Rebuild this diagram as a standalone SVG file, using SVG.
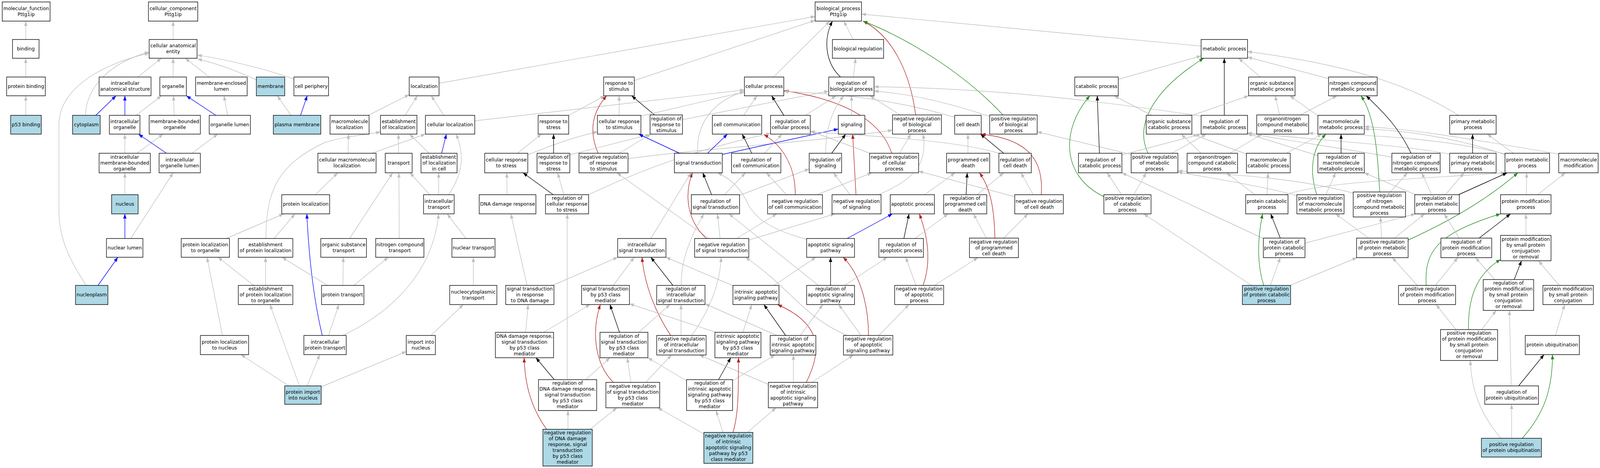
<svg xmlns="http://www.w3.org/2000/svg" width="4344" height="1197" viewBox="0 0 4344 1197" preserveAspectRatio="none">
<style>
:root{width:100vw;height:100vh;display:block}
.n rect{fill:#fff;stroke:#000;stroke-width:1.4}
.n.a rect{fill:#add8e6}
.n text{font-family:"DejaVu Sans","Liberation Sans",sans-serif;font-size:13px;text-anchor:middle;fill:#000}
#edges path{fill:none;stroke-width:1.4}
#edges .g{stroke:#c0c0c0;marker-end:url(#mg)}
#edges .k{stroke:#000;marker-end:url(#mk)}
#edges .b{stroke:#0000ff;marker-end:url(#mb)}
#edges .r{stroke:#b22222;marker-end:url(#mr)}
#edges .v{stroke:#228b22;marker-end:url(#mv)}
</style>
<defs>
<marker id="mg" viewBox="0 0 12 9" refX="12" refY="4.5" markerUnits="userSpaceOnUse" markerWidth="12" markerHeight="9" orient="auto"><path d="M0,0 L12,4.5 L0,9 z" fill="#c0c0c0"/></marker>
<marker id="mk" viewBox="0 0 12 9" refX="12" refY="4.5" markerUnits="userSpaceOnUse" markerWidth="12" markerHeight="9" orient="auto"><path d="M0,0 L12,4.5 L0,9 z" fill="#000"/></marker>
<marker id="mb" viewBox="0 0 12 9" refX="12" refY="4.5" markerUnits="userSpaceOnUse" markerWidth="12" markerHeight="9" orient="auto"><path d="M0,0 L12,4.5 L0,9 z" fill="#0000ff"/></marker>
<marker id="mr" viewBox="0 0 12 9" refX="12" refY="4.5" markerUnits="userSpaceOnUse" markerWidth="12" markerHeight="9" orient="auto"><path d="M0,0 L12,4.5 L0,9 z" fill="#b22222"/></marker>
<marker id="mv" viewBox="0 0 12 9" refX="12" refY="4.5" markerUnits="userSpaceOnUse" markerWidth="12" markerHeight="9" orient="auto"><path d="M0,0 L12,4.5 L0,9 z" fill="#228b22"/></marker>
</defs>
<rect x="0" y="0" width="4344" height="1197" fill="#fff"/>
<g id="edges">
<path class="g" d="M70,101 L70,54"/>
<path class="g" d="M70,197 L70,149"/>
<path class="g" d="M70,295 L70,245"/>
<path class="g" d="M470,101 L470,54"/>
<path class="g" d="M374,197 L438,149"/>
<path class="g" d="M470,197 L470,149"/>
<path class="g" d="M568,197 L503,149"/>
<path class="g" d="M696,204 C640,180 580,160 536,151"/>
<path class="g" d="M798,202 C700,170 600,150 536,141"/>
<path class="g" d="M232,295 C235,220 300,160 405,133"/>
<path class="g" d="M234,730 C200,680 160,620 160,540 L160,320 C160,220 290,160 405,136"/>
<path class="b" d="M260,295 L315,245"/>
<path class="b" d="M339,295 L339,245"/>
<path class="g" d="M370,295 L438,245"/>
<path class="g" d="M473,295 L471,245"/>
<path class="b" d="M586,295 L506,245"/>
<path class="g" d="M618,295 L608,245"/>
<path class="g" d="M339,392 L339,343"/>
<path class="g" d="M372,392 L443,343"/>
<path class="b" d="M452,392 L376,343"/>
<path class="g" d="M521,392 L591,343"/>
<path class="g" d="M339,498 L339,442"/>
<path class="b" d="M339,610 L339,547"/>
<path class="g" d="M355,610 L470,442"/>
<path class="b" d="M266,730 L320,658"/>
<path class="g" d="M790,295 L753,245"/>
<path class="b" d="M816,295 L834,245"/>
<path class="g" d="M614,610 L770,547"/>
<path class="g" d="M604,858 L562,658"/>
<path class="g" d="M689,730 L592,658"/>
<path class="g" d="M784,987 L654,907"/>
<path class="g" d="M1192,213 L2213,42"/>
<path class="g" d="M1000,295 L1111,242"/>
<path class="g" d="M1100,295 L1133,245"/>
<path class="g" d="M1205,295 L1171,245"/>
<path class="g" d="M1289,309 L2021,230"/>
<path class="g" d="M945,392 L946,343"/>
<path class="g" d="M1010,392 L1155,343"/>
<path class="g" d="M1082,392 L1082,343"/>
<path class="g" d="M1165,392 L1112,343"/>
<path class="b" d="M1199,392 L1212,343"/>
<path class="g" d="M856,498 L917,442"/>
<path class="g" d="M1167,498 L1113,442"/>
<path class="g" d="M1191,498 L1191,442"/>
<path class="g" d="M1218,498 C1260,440 1260,390 1238,343"/>
<path class="g" d="M722,610 C722,480 760,420 880,365 C950,345 1000,345 1033,337"/>
<path class="g" d="M744,610 L801,547"/>
<path class="b" d="M875,858 C855,780 840,680 833,547"/>
<path class="g" d="M949,610 L1066,442"/>
<path class="g" d="M1084,610 L1083,442"/>
<path class="g" d="M931,858 C1060,800 1175,700 1191,547"/>
<path class="g" d="M1265,610 L1214,547"/>
<path class="g" d="M1377,498 L1376,442"/>
<path class="k" d="M1502,498 L1420,442"/>
<path class="g" d="M1405,392 L1470,343"/>
<path class="g" d="M1433,396 C1500,370 1560,350 1623,337"/>
<path class="g" d="M889,730 L766,658"/>
<path class="g" d="M931,730 L932,658"/>
<path class="g" d="M961,730 L1054,658"/>
<path class="g" d="M721,730 L721,658"/>
<path class="g" d="M892,858 L920,779"/>
<path class="g" d="M834,987 L868,907"/>
<path class="g" d="M813,987 L733,779"/>
<path class="g" d="M873,989 L1103,899"/>
<path class="g" d="M1170,858 L1258,779"/>
<path class="g" d="M1285,730 L1285,658"/>
<path class="g" d="M1431,730 L1387,547"/>
<path class="g" d="M1427,850 L1434,779"/>
<path class="r" d="M1484,1098 C1440,1040 1425,980 1423,915"/>
<path class="g" d="M1722,206 L2213,52"/>
<path class="g" d="M1544,295 L1642,245"/>
<path class="g" d="M1681,295 L1681,245"/>
<path class="k" d="M1777,294 L1715,245"/>
<path class="r" d="M1624,392 C1600,340 1605,290 1647,245"/>
<path class="g" d="M1740,297 L2021,235"/>
<path class="g" d="M1853,306 L2250,233"/>
<path class="k" d="M1503,392 L1503,343"/>
<path class="g" d="M1547,396 L1764,344"/>
<path class="g" d="M1531,498 L1514,442"/>
<path class="g" d="M1598,498 C1750,430 1900,380 2092,341"/>
<path class="g" d="M1681,392 L1767,343"/>
<path class="g" d="M1705,406 C1900,380 2200,365 2423,333"/>
<path class="g" d="M1925,610 L1675,442"/>
<path class="b" d="M1845,392 L1734,343"/>
<path class="b" d="M1921,392 L1975,343"/>
<path class="g" d="M1894,392 C1890,320 1930,260 2021,234"/>
<path class="b" d="M1961,395 L2276,330"/>
<path class="k" d="M1932,498 L1908,442"/>
<path class="r" d="M1918,610 C1860,560 1860,490 1880,442"/>
<path class="g" d="M2190,612 C2100,590 2050,560 2030,520 C2010,480 1980,455 1948,442"/>
<path class="g" d="M1767,610 L1876,442"/>
<path class="g" d="M1849,730 C1850,680 1860,630 1911,547"/>
<path class="g" d="M1955,610 L1948,547"/>
<path class="g" d="M2222,730 L1979,547"/>
<path class="g" d="M2000,610 L2109,547"/>
<path class="g" d="M2033,614 L2267,547"/>
<path class="g" d="M2007,500 L2197,432"/>
<path class="g" d="M1967,498 L2024,442"/>
<path class="g" d="M2135,498 L2081,442"/>
<path class="k" d="M2041,392 L2015,343"/>
<path class="g" d="M2019,295 L2055,245"/>
<path class="g" d="M2076,392 L2123,343"/>
<path class="r" d="M2159,498 C2160,420 2120,370 2074,344"/>
<path class="k" d="M2128,295 L2095,245"/>
<path class="g" d="M2187,295 L2270,245"/>
<path class="r" d="M2421,392 C2400,330 2330,260 2129,232"/>
<path class="g" d="M2592,300 C2450,260 2300,240 2128,234"/>
<path class="g" d="M2100,197 L2253,54"/>
<path class="k" d="M2282,197 C2240,160 2235,100 2260,54"/>
<path class="g" d="M2316,101 L2291,54"/>
<path class="g" d="M2317,197 L2323,149"/>
<path class="r" d="M2486,294 C2470,180 2420,90 2343,54"/>
<path class="v" d="M2723,294 C2620,190 2470,100 2343,54"/>
<path class="g" d="M3261,118 L2339,36"/>
<path class="g" d="M2312,295 L2312,245"/>
<path class="g" d="M2242,392 C2240,330 2260,280 2291,245"/>
<path class="g" d="M2444,294 L2362,245"/>
<path class="g" d="M2687,298 C2600,270 2480,240 2373,233"/>
<path class="g" d="M3261,297 C3000,260 2700,225 2373,222"/>
<path class="k" d="M2258,392 L2296,343"/>
<path class="r" d="M2324,498 L2315,343"/>
<path class="g" d="M2308,498 L2263,442"/>
<path class="g" d="M2218,498 L2367,442"/>
<path class="g" d="M2385,498 C2480,460 2520,420 2506,343"/>
<path class="g" d="M2442,392 L2473,343"/>
<path class="g" d="M2362,392 L2200,335"/>
<path class="g" d="M2712,392 C2600,360 2400,350 2200,337"/>
<path class="b" d="M2300,610 L2423,547"/>
<path class="k" d="M2454,610 L2468,547"/>
<path class="r" d="M2506,730 C2525,680 2525,620 2496,547"/>
<path class="g" d="M2510,498 L2593,442"/>
<path class="k" d="M2623,498 L2626,442"/>
<path class="g" d="M2628,392 L2628,343"/>
<path class="k" d="M2725,392 L2662,343"/>
<path class="r" d="M2827,498 C2835,400 2780,355 2664,343"/>
<path class="g" d="M2653,498 L2725,442"/>
<path class="g" d="M2805,498 L2772,442"/>
<path class="g" d="M2755,503 L2494,438"/>
<path class="r" d="M2701,609 C2700,540 2690,480 2659,442"/>
<path class="g" d="M2484,610 L2574,547"/>
<path class="g" d="M2678,609 L2643,547"/>
<path class="g" d="M2725,609 L2791,547"/>
<path class="g" d="M3071,395 L2816,337"/>
<path class="g" d="M3036,203 L3261,143"/>
<path class="v" d="M3117,392 C3080,320 3130,230 3268,149"/>
<path class="k" d="M3324,295 L3324,149"/>
<path class="g" d="M3422,197 L3363,149"/>
<path class="g" d="M3960,295 C3850,230 3700,170 3387,132"/>
<path class="g" d="M3607,201 L3387,146"/>
<path class="k" d="M2985,392 L2979,245"/>
<path class="v" d="M2997,503 C2880,450 2880,330 2959,245"/>
<path class="g" d="M3127,295 L3025,245"/>
<path class="g" d="M3237,295 L3390,245"/>
<path class="g" d="M3474,294 L3462,245"/>
<path class="g" d="M3578,296 L3502,245"/>
<path class="g" d="M3531,294 L3630,245"/>
<path class="g" d="M3046,396 L3261,343"/>
<path class="g" d="M3181,392 L3275,343"/>
<path class="g" d="M3261,392 L3207,343"/>
<path class="g" d="M3339,392 L3426,343"/>
<path class="g" d="M3384,394 L3236,343"/>
<path class="g" d="M3492,392 L3589,343"/>
<path class="g" d="M3578,398 L3387,342"/>
<path class="g" d="M3779,402 C3650,380 3500,360 3387,341"/>
<path class="g" d="M3936,394 C3800,370 3600,360 3387,340"/>
<path class="g" d="M4087,394 C3900,350 3700,345 3553,341"/>
<path class="g" d="M4087,396 C3950,350 3800,332 3704,330"/>
<path class="g" d="M4109,392 L4038,343"/>
<path class="g" d="M4232,394 C3900,340 3800,328 3704,324"/>
<path class="v" d="M3575,498 C3555,440 3560,380 3600,343"/>
<path class="k" d="M3641,392 L3641,343"/>
<path class="g" d="M3521,500 C3400,470 3250,450 3198,440"/>
<path class="g" d="M3674,494 C3500,450 3300,445 3198,437"/>
<path class="g" d="M3430,610 L3046,442"/>
<path class="g" d="M3045,498 L3006,442"/>
<path class="g" d="M3078,498 L3112,442"/>
<path class="g" d="M3398,730 L3105,547"/>
<path class="g" d="M3407,498 L3330,442"/>
<path class="g" d="M3440,498 L3443,442"/>
<path class="v" d="M3431,730 C3414,680 3412,620 3428,547"/>
<path class="k" d="M3476,609 L3450,547"/>
<path class="g" d="M3488,498 C3600,465 3800,460 4087,442"/>
<path class="g" d="M3449,730 L3476,659"/>
<path class="g" d="M3502,730 L3684,659"/>
<path class="g" d="M3543,622 L3843,547"/>
<path class="g" d="M3843,498 L3704,442"/>
<path class="g" d="M3887,498 L3860,442"/>
<path class="g" d="M3924,498 L3975,442"/>
<path class="k" d="M3960,498 L4092,442"/>
<path class="g" d="M3600,498 L3626,442"/>
<path class="g" d="M3775,491 L3821,442"/>
<path class="v" d="M3746,491 C3740,400 3735,300 3695,245"/>
<path class="k" d="M3831,392 C3800,330 3760,290 3709,245"/>
<path class="k" d="M3998,392 L3998,343"/>
<path class="g" d="M4144,498 L4145,442"/>
<path class="g" d="M4175,498 L4250,442"/>
<path class="g" d="M3716,609 L3626,547"/>
<path class="g" d="M3751,609 L3748,555"/>
<path class="g" d="M3786,609 L3868,547"/>
<path class="v" d="M3823,614 C3950,560 4050,500 4121,442"/>
<path class="v" d="M3872,730 C3868,650 3890,600 4074,547"/>
<path class="g" d="M3962,609 L3921,547"/>
<path class="k" d="M4016,609 L4101,547"/>
<path class="g" d="M4143,602 L4143,547"/>
<path class="g" d="M3848,730 L3780,659"/>
<path class="g" d="M3897,730 L3958,659"/>
<path class="g" d="M4058,715 L4006,659"/>
<path class="k" d="M4111,715 L4131,667"/>
<path class="v" d="M3987,843 C3985,760 4010,700 4074,664"/>
<path class="g" d="M3953,843 L3899,779"/>
<path class="g" d="M4023,843 L4062,794"/>
<path class="g" d="M4233,730 L4177,667"/>
<path class="g" d="M4223,858 L4248,779"/>
<path class="k" d="M4123,987 L4192,907"/>
<path class="g" d="M4103,987 L4098,794"/>
<path class="g" d="M4104,1121 L4104,1034"/>
<path class="g" d="M4075,1121 C4020,1060 3995,1000 3992,922"/>
<path class="v" d="M4133,1121 C4190,1060 4215,1000 4215,907"/>
<path class="g" d="M1500,730 L1677,658"/>
<path class="g" d="M1665,730 L1722,658"/>
<path class="r" d="M1821,858 C1780,800 1750,730 1743,658"/>
<path class="k" d="M1827,730 L1767,658"/>
<path class="g" d="M1991,731 L1808,658"/>
<path class="g" d="M1878,858 C1930,790 1955,720 1958,658"/>
<path class="g" d="M2300,858 C2180,810 2150,740 2024,658"/>
<path class="g" d="M1476,850 L1602,779"/>
<path class="k" d="M1682,850 L1656,779"/>
<path class="r" d="M1665,978 C1615,930 1605,850 1630,779"/>
<path class="g" d="M1734,850 L1819,779"/>
<path class="g" d="M1849,858 L1849,779"/>
<path class="g" d="M1944,850 L1709,777"/>
<path class="g" d="M2017,850 L2041,779"/>
<path class="k" d="M2133,858 L2074,779"/>
<path class="g" d="M2109,858 L1914,777"/>
<path class="r" d="M2189,978 C2230,900 2235,830 2111,779"/>
<path class="g" d="M2100,731 L2215,658"/>
<path class="k" d="M1505,971 L1455,915"/>
<path class="g" d="M1590,971 L1656,915"/>
<path class="g" d="M1713,978 L1703,915"/>
<path class="g" d="M1753,978 L1823,908"/>
<path class="g" d="M1864,974 L1759,915"/>
<path class="k" d="M1951,971 L1984,915"/>
<path class="g" d="M1989,974 L2104,908"/>
<path class="g" d="M2086,983 L1899,908"/>
<path class="g" d="M2154,978 L2154,908"/>
<path class="g" d="M2204,978 L2317,908"/>
<path class="r" d="M1990,1106 C2005,1060 2005,1000 2005,915"/>
<path class="g" d="M1963,1106 L1944,1050"/>
<path class="g" d="M1911,1110 L1786,1043"/>
<path class="g" d="M2029,1106 L2107,1043"/>
<path class="g" d="M1542,1098 L1542,1050"/>
<path class="g" d="M1602,1098 L1675,1043"/>
<path class="g" d="M1540,971 L1540,547"/>
<path class="k" d="M2255,730 L2255,658"/>
<path class="r" d="M2358,858 C2358,780 2335,700 2289,658"/>
<path class="g" d="M2293,730 L2409,658"/>
<path class="g" d="M2487,730 L2459,658"/>
<path class="g" d="M2537,730 L2655,659"/>
<path class="g" d="M2173,858 L2234,779"/>
<path class="g" d="M2338,858 L2277,779"/>
<path class="g" d="M2386,858 L2468,779"/>
</g>
<g id="n_mf" class="n"><rect x="6" y="5" width="130" height="49"/><text><tspan x="71" y="25.7">molecular_function</tspan><tspan x="71" y="40.7">Pttg1ip</tspan></text></g>
<g id="n_cc" class="n"><rect x="403" y="5" width="134" height="49"/><text><tspan x="470" y="25.7">cellular_component</tspan><tspan x="470" y="40.7">Pttg1ip</tspan></text></g>
<g id="n_bp" class="n"><rect x="2213" y="5" width="126" height="49"/><text><tspan x="2276" y="25.7">biological_process</tspan><tspan x="2276" y="40.7">Pttg1ip</tspan></text></g>
<g id="n_binding" class="n"><rect x="34" y="101" width="72" height="48"/><text><tspan x="70" y="128.7">binding</tspan></text></g>
<g id="n_cae" class="n"><rect x="405" y="101" width="130" height="48"/><text><tspan x="470" y="121.2">cellular anatomical</tspan><tspan x="470" y="136.2">entity</tspan></text></g>
<g id="n_br" class="n"><rect x="2260" y="101" width="139" height="48"/><text><tspan x="2329.5" y="128.7">biological regulation</tspan></text></g>
<g id="n_mp" class="n"><rect x="3261" y="101" width="126" height="48"/><text><tspan x="3324" y="128.7">metabolic process</tspan></text></g>
<g id="n_pb" class="n"><rect x="18" y="197" width="105" height="48"/><text><tspan x="70.5" y="224.7">protein binding</tspan></text></g>
<g id="n_ias" class="n"><rect x="269" y="197" width="141" height="48"/><text><tspan x="339.5" y="217.2">intracellular</tspan><tspan x="339.5" y="232.2">anatomical structure</tspan></text></g>
<g id="n_organelle" class="n"><rect x="434" y="197" width="72" height="48"/><text><tspan x="470" y="224.7">organelle</tspan></text></g>
<g id="n_mel" class="n"><rect x="531" y="197" width="140" height="48"/><text><tspan x="601" y="217.2">membrane-enclosed</tspan><tspan x="601" y="232.2">lumen</tspan></text></g>
<g id="n_membrane" class="n a"><rect x="696" y="197" width="77" height="48"/><text><tspan x="734.5" y="224.7">membrane</tspan></text></g>
<g id="n_cper" class="n"><rect x="798" y="197" width="94" height="48"/><text><tspan x="845" y="224.7">cell periphery</tspan></text></g>
<g id="n_loc" class="n"><rect x="1111" y="197" width="81" height="48"/><text><tspan x="1151.5" y="224.7">localization</tspan></text></g>
<g id="n_rstim" class="n"><rect x="1639" y="197" width="83" height="48"/><text><tspan x="1680.5" y="217.2">response to</tspan><tspan x="1680.5" y="232.2">stimulus</tspan></text></g>
<g id="n_cp" class="n"><rect x="2021" y="197" width="107" height="48"/><text><tspan x="2074.5" y="224.7">cellular process</tspan></text></g>
<g id="n_rbp" class="n"><rect x="2250" y="197" width="123" height="48"/><text><tspan x="2311.5" y="217.2">regulation of</tspan><tspan x="2311.5" y="232.2">biological process</tspan></text></g>
<g id="n_catp" class="n"><rect x="2918" y="197" width="118" height="48"/><text><tspan x="2977" y="224.7">catabolic process</tspan></text></g>
<g id="n_osmp" class="n"><rect x="3390" y="197" width="126" height="48"/><text><tspan x="3453" y="217.2">organic substance</tspan><tspan x="3453" y="232.2">metabolic process</tspan></text></g>
<g id="n_ncmp" class="n"><rect x="3607" y="197" width="132" height="48"/><text><tspan x="3673" y="217.2">nitrogen compound</tspan><tspan x="3673" y="232.2">metabolic process</tspan></text></g>
<g id="n_p53b" class="n a"><rect x="29" y="295" width="83" height="48"/><text><tspan x="70.5" y="322.7">p53 binding</tspan></text></g>
<g id="n_cyto" class="n a"><rect x="197" y="295" width="75" height="48"/><text><tspan x="234.5" y="322.7">cytoplasm</tspan></text></g>
<g id="n_io" class="n"><rect x="297" y="295" width="83" height="48"/><text><tspan x="338.5" y="315.2">intracellular</tspan><tspan x="338.5" y="330.2">organelle</tspan></text></g>
<g id="n_mbo" class="n"><rect x="405" y="295" width="139" height="48"/><text><tspan x="474.5" y="315.2">membrane-bounded</tspan><tspan x="474.5" y="330.2">organelle</tspan></text></g>
<g id="n_ol" class="n"><rect x="568" y="295" width="112" height="48"/><text><tspan x="624" y="322.7">organelle lumen</tspan></text></g>
<g id="n_pm" class="n a"><rect x="742" y="295" width="129" height="48"/><text><tspan x="806.5" y="322.7">plasma membrane</tspan></text></g>
<g id="n_ml" class="n"><rect x="896" y="295" width="106" height="48"/><text><tspan x="949" y="315.2">macromolecule</tspan><tspan x="949" y="330.2">localization</tspan></text></g>
<g id="n_el" class="n"><rect x="1033" y="295" width="99" height="48"/><text><tspan x="1082.5" y="315.2">establishment</tspan><tspan x="1082.5" y="330.2">of localization</tspan></text></g>
<g id="n_cl" class="n"><rect x="1155" y="295" width="134" height="48"/><text><tspan x="1222" y="322.7">cellular localization</tspan></text></g>
<g id="n_rstress" class="n"><rect x="1461" y="295" width="83" height="48"/><text><tspan x="1502.5" y="315.2">response to</tspan><tspan x="1502.5" y="330.2">stress</tspan></text></g>
<g id="n_crstim" class="n"><rect x="1622" y="295" width="118" height="48"/><text><tspan x="1681" y="315.2">cellular response</tspan><tspan x="1681" y="330.2">to stimulus</tspan></text></g>
<g id="n_rrstim" class="n"><rect x="1765" y="294" width="88" height="49"/><text><tspan x="1809" y="307.7">regulation of</tspan><tspan x="1809" y="322.7">response to</tspan><tspan x="1809" y="337.7">stimulus</tspan></text></g>
<g id="n_ccom" class="n"><rect x="1934" y="295" width="134" height="48"/><text><tspan x="2001" y="322.7">cell communication</tspan></text></g>
<g id="n_rcp" class="n"><rect x="2092" y="295" width="108" height="48"/><text><tspan x="2146" y="315.2">regulation of</tspan><tspan x="2146" y="330.2">cellular process</tspan></text></g>
<g id="n_sig" class="n"><rect x="2276" y="295" width="72" height="48"/><text><tspan x="2312" y="322.7">signaling</tspan></text></g>
<g id="n_nrbp" class="n"><rect x="2423" y="294" width="133" height="49"/><text><tspan x="2489.5" y="307.7">negative regulation</tspan><tspan x="2489.5" y="322.7">of biological</tspan><tspan x="2489.5" y="337.7">process</tspan></text></g>
<g id="n_cd" class="n"><rect x="2592" y="295" width="72" height="48"/><text><tspan x="2628" y="322.7">cell death</tspan></text></g>
<g id="n_prbp" class="n"><rect x="2687" y="294" width="129" height="49"/><text><tspan x="2751.5" y="307.7">positive regulation</tspan><tspan x="2751.5" y="322.7">of biological</tspan><tspan x="2751.5" y="337.7">process</tspan></text></g>
<g id="n_oscp" class="n"><rect x="3112" y="295" width="124" height="48"/><text><tspan x="3174" y="315.2">organic substance</tspan><tspan x="3174" y="330.2">catabolic process</tspan></text></g>
<g id="n_rmp" class="n"><rect x="3261" y="295" width="126" height="48"/><text><tspan x="3324" y="315.2">regulation of</tspan><tspan x="3324" y="330.2">metabolic process</tspan></text></g>
<g id="n_oncmp" class="n"><rect x="3412" y="294" width="141" height="49"/><text><tspan x="3482.5" y="307.7">organonitrogen</tspan><tspan x="3482.5" y="322.7">compound metabolic</tspan><tspan x="3482.5" y="337.7">process</tspan></text></g>
<g id="n_mmp" class="n"><rect x="3578" y="295" width="126" height="48"/><text><tspan x="3641" y="315.2">macromolecule</tspan><tspan x="3641" y="330.2">metabolic process</tspan></text></g>
<g id="n_primmp" class="n"><rect x="3936" y="295" width="126" height="48"/><text><tspan x="3999" y="315.2">primary metabolic</tspan><tspan x="3999" y="330.2">process</tspan></text></g>
<g id="n_imbo" class="n"><rect x="269" y="392" width="139" height="50"/><text><tspan x="338.5" y="405.7">intracellular</tspan><tspan x="338.5" y="420.7">membrane-bounded</tspan><tspan x="338.5" y="435.7">organelle</tspan></text></g>
<g id="n_iol" class="n"><rect x="432" y="392" width="112" height="50"/><text><tspan x="488" y="413.2">intracellular</tspan><tspan x="488" y="428.2">organelle lumen</tspan></text></g>
<g id="n_cml" class="n"><rect x="863" y="392" width="158" height="50"/><text><tspan x="942" y="413.2">cellular macromolecule</tspan><tspan x="942" y="428.2">localization</tspan></text></g>
<g id="n_transport" class="n"><rect x="1046" y="392" width="73" height="50"/><text><tspan x="1082.5" y="420.7">transport</tspan></text></g>
<g id="n_elc" class="n"><rect x="1143" y="392" width="98" height="50"/><text><tspan x="1192" y="405.7">establishment</tspan><tspan x="1192" y="420.7">of localization</tspan><tspan x="1192" y="435.7">in cell</tspan></text></g>
<g id="n_crs" class="n"><rect x="1316" y="392" width="117" height="50"/><text><tspan x="1374.5" y="413.2">cellular response</tspan><tspan x="1374.5" y="428.2">to stress</tspan></text></g>
<g id="n_rrstress" class="n"><rect x="1458" y="392" width="89" height="50"/><text><tspan x="1502.5" y="405.7">regulation of</tspan><tspan x="1502.5" y="420.7">response to</tspan><tspan x="1502.5" y="435.7">stress</tspan></text></g>
<g id="n_nrrstim" class="n"><rect x="1572" y="392" width="133" height="50"/><text><tspan x="1638.5" y="405.7">negative regulation</tspan><tspan x="1638.5" y="420.7">of response</tspan><tspan x="1638.5" y="435.7">to stimulus</tspan></text></g>
<g id="n_st" class="n"><rect x="1831" y="392" width="130" height="50"/><text><tspan x="1896" y="420.7">signal transduction</tspan></text></g>
<g id="n_rcc" class="n"><rect x="1986" y="392" width="134" height="50"/><text><tspan x="2053" y="413.2">regulation of</tspan><tspan x="2053" y="428.2">cell communication</tspan></text></g>
<g id="n_rs" class="n"><rect x="2197" y="392" width="88" height="50"/><text><tspan x="2241" y="413.2">regulation of</tspan><tspan x="2241" y="428.2">signaling</tspan></text></g>
<g id="n_nrcp" class="n"><rect x="2361" y="392" width="133" height="50"/><text><tspan x="2427.5" y="405.7">negative regulation</tspan><tspan x="2427.5" y="420.7">of cellular</tspan><tspan x="2427.5" y="435.7">process</tspan></text></g>
<g id="n_pcd" class="n"><rect x="2570" y="392" width="117" height="50"/><text><tspan x="2628.5" y="413.2">programmed cell</tspan><tspan x="2628.5" y="428.2">death</tspan></text></g>
<g id="n_rcd" class="n"><rect x="2712" y="392" width="88" height="50"/><text><tspan x="2756" y="413.2">regulation of</tspan><tspan x="2756" y="428.2">cell death</tspan></text></g>
<g id="n_rcatp" class="n"><rect x="2928" y="392" width="118" height="50"/><text><tspan x="2987" y="413.2">regulation of</tspan><tspan x="2987" y="428.2">catabolic process</tspan></text></g>
<g id="n_prmp" class="n"><rect x="3071" y="392" width="127" height="50"/><text><tspan x="3134.5" y="405.7">positive regulation</tspan><tspan x="3134.5" y="420.7">of metabolic</tspan><tspan x="3134.5" y="435.7">process</tspan></text></g>
<g id="n_onccp" class="n"><rect x="3223" y="392" width="137" height="50"/><text><tspan x="3291.5" y="405.7">organonitrogen</tspan><tspan x="3291.5" y="420.7">compound catabolic</tspan><tspan x="3291.5" y="435.7">process</tspan></text></g>
<g id="n_mcp" class="n"><rect x="3384" y="392" width="119" height="50"/><text><tspan x="3443.5" y="413.2">macromolecule</tspan><tspan x="3443.5" y="428.2">catabolic process</tspan></text></g>
<g id="n_rmmp" class="n"><rect x="3578" y="392" width="126" height="50"/><text><tspan x="3641" y="405.7">regulation of</tspan><tspan x="3641" y="420.7">macromolecule</tspan><tspan x="3641" y="435.7">metabolic process</tspan></text></g>
<g id="n_rncmp" class="n"><rect x="3779" y="392" width="131" height="50"/><text><tspan x="3844.5" y="405.7">regulation of</tspan><tspan x="3844.5" y="420.7">nitrogen compound</tspan><tspan x="3844.5" y="435.7">metabolic process</tspan></text></g>
<g id="n_rprimmp" class="n"><rect x="3936" y="392" width="126" height="50"/><text><tspan x="3999" y="405.7">regulation of</tspan><tspan x="3999" y="420.7">primary metabolic</tspan><tspan x="3999" y="435.7">process</tspan></text></g>
<g id="n_protmp" class="n"><rect x="4086" y="392" width="121" height="50"/><text><tspan x="4146.5" y="413.2">protein metabolic</tspan><tspan x="4146.5" y="428.2">process</tspan></text></g>
<g id="n_mm" class="n"><rect x="4232" y="392" width="107" height="50"/><text><tspan x="4285.5" y="413.2">macromolecule</tspan><tspan x="4285.5" y="428.2">modification</tspan></text></g>
<g id="n_nucleus" class="n a"><rect x="303" y="498" width="72" height="49"/><text><tspan x="339" y="526.2">nucleus</tspan></text></g>
<g id="n_pl" class="n"><rect x="765" y="498" width="130" height="49"/><text><tspan x="830" y="526.2">protein localization</tspan></text></g>
<g id="n_it" class="n"><rect x="1150" y="498" width="83" height="49"/><text><tspan x="1191.5" y="518.7">intracellular</tspan><tspan x="1191.5" y="533.7">transport</tspan></text></g>
<g id="n_ddr" class="n"><rect x="1301" y="498" width="154" height="49"/><text><tspan x="1378" y="526.2">DNA damage response</tspan></text></g>
<g id="n_rcrs" class="n"><rect x="1481" y="498" width="117" height="49"/><text><tspan x="1539.5" y="511.2">regulation of</tspan><tspan x="1539.5" y="526.2">cellular response</tspan><tspan x="1539.5" y="541.2">to stress</tspan></text></g>
<g id="n_rst" class="n"><rect x="1877" y="498" width="131" height="49"/><text><tspan x="1942.5" y="518.7">regulation of</tspan><tspan x="1942.5" y="533.7">signal transduction</tspan></text></g>
<g id="n_nrcc" class="n"><rect x="2084" y="498" width="149" height="49"/><text><tspan x="2158.5" y="518.7">negative regulation</tspan><tspan x="2158.5" y="533.7">of cell communication</tspan></text></g>
<g id="n_nrs" class="n"><rect x="2259" y="498" width="133" height="49"/><text><tspan x="2325.5" y="518.7">negative regulation</tspan><tspan x="2325.5" y="533.7">of signaling</tspan></text></g>
<g id="n_ap" class="n"><rect x="2417" y="498" width="120" height="49"/><text><tspan x="2477" y="526.2">apoptotic process</tspan></text></g>
<g id="n_rpcd" class="n"><rect x="2562" y="498" width="117" height="49"/><text><tspan x="2620.5" y="511.2">regulation of</tspan><tspan x="2620.5" y="526.2">programmed cell</tspan><tspan x="2620.5" y="541.2">death</tspan></text></g>
<g id="n_nrcd" class="n"><rect x="2755" y="498" width="132" height="49"/><text><tspan x="2821" y="518.7">negative regulation</tspan><tspan x="2821" y="533.7">of cell death</tspan></text></g>
<g id="n_prcatp" class="n"><rect x="2997" y="498" width="128" height="49"/><text><tspan x="3061" y="511.2">positive regulation</tspan><tspan x="3061" y="526.2">of catabolic</tspan><tspan x="3061" y="541.2">process</tspan></text></g>
<g id="n_pcp" class="n"><rect x="3382" y="498" width="115" height="49"/><text><tspan x="3439.5" y="518.7">protein catabolic</tspan><tspan x="3439.5" y="533.7">process</tspan></text></g>
<g id="n_prmmp" class="n"><rect x="3521" y="498" width="128" height="49"/><text><tspan x="3585" y="511.2">positive regulation</tspan><tspan x="3585" y="526.2">of macromolecule</tspan><tspan x="3585" y="541.2">metabolic process</tspan></text></g>
<g id="n_prncmp" class="n"><rect x="3674" y="491" width="142" height="64"/><text><tspan x="3745" y="504.2">positive regulation</tspan><tspan x="3745" y="519.2">of nitrogen</tspan><tspan x="3745" y="534.2">compound metabolic</tspan><tspan x="3745" y="549.2">process</tspan></text></g>
<g id="n_rpmp" class="n"><rect x="3841" y="498" width="121" height="49"/><text><tspan x="3901.5" y="511.2">regulation of</tspan><tspan x="3901.5" y="526.2">protein metabolic</tspan><tspan x="3901.5" y="541.2">process</tspan></text></g>
<g id="n_pmodp" class="n"><rect x="4074" y="498" width="137" height="49"/><text><tspan x="4142.5" y="518.7">protein modification</tspan><tspan x="4142.5" y="533.7">process</tspan></text></g>
<g id="n_nl" class="n"><rect x="289" y="610" width="99" height="48"/><text><tspan x="338.5" y="637.7">nuclear lumen</tspan></text></g>
<g id="n_plo" class="n"><rect x="492" y="610" width="131" height="48"/><text><tspan x="557.5" y="630.2">protein localization</tspan><tspan x="557.5" y="645.2">to organelle</tspan></text></g>
<g id="n_epl" class="n"><rect x="647" y="610" width="148" height="48"/><text><tspan x="721" y="630.2">establishment</tspan><tspan x="721" y="645.2">of protein localization</tspan></text></g>
<g id="n_ost" class="n"><rect x="871" y="610" width="124" height="48"/><text><tspan x="933" y="630.2">organic substance</tspan><tspan x="933" y="645.2">transport</tspan></text></g>
<g id="n_nct" class="n"><rect x="1020" y="610" width="131" height="48"/><text><tspan x="1085.5" y="630.2">nitrogen compound</tspan><tspan x="1085.5" y="645.2">transport</tspan></text></g>
<g id="n_nt" class="n"><rect x="1227" y="610" width="117" height="48"/><text><tspan x="1285.5" y="637.7">nuclear transport</tspan></text></g>
<g id="n_ist" class="n"><rect x="1677" y="610" width="131" height="48"/><text><tspan x="1742.5" y="630.2">intracellular</tspan><tspan x="1742.5" y="645.2">signal transduction</tspan></text></g>
<g id="n_nrst" class="n"><rect x="1886" y="610" width="147" height="48"/><text><tspan x="1959.5" y="630.2">negative regulation</tspan><tspan x="1959.5" y="645.2">of signal transduction</tspan></text></g>
<g id="n_asp" class="n"><rect x="2190" y="610" width="130" height="48"/><text><tspan x="2255" y="630.2">apoptotic signaling</tspan><tspan x="2255" y="645.2">pathway</tspan></text></g>
<g id="n_rap" class="n"><rect x="2386" y="610" width="121" height="48"/><text><tspan x="2446.5" y="630.2">regulation of</tspan><tspan x="2446.5" y="645.2">apoptotic process</tspan></text></g>
<g id="n_nrpcd" class="n"><rect x="2632" y="609" width="133" height="50"/><text><tspan x="2698.5" y="622.7">negative regulation</tspan><tspan x="2698.5" y="637.7">of programmed</tspan><tspan x="2698.5" y="652.7">cell death</tspan></text></g>
<g id="n_rpcp" class="n"><rect x="3430" y="609" width="113" height="50"/><text><tspan x="3486.5" y="622.7">regulation of</tspan><tspan x="3486.5" y="637.7">protein catabolic</tspan><tspan x="3486.5" y="652.7">process</tspan></text></g>
<g id="n_prpmp" class="n"><rect x="3683" y="609" width="140" height="50"/><text><tspan x="3753" y="622.7">positive regulation</tspan><tspan x="3753" y="637.7">of protein metabolic</tspan><tspan x="3753" y="652.7">process</tspan></text></g>
<g id="n_rpmodp" class="n"><rect x="3912" y="609" width="138" height="50"/><text><tspan x="3981" y="622.7">regulation of</tspan><tspan x="3981" y="637.7">protein modification</tspan><tspan x="3981" y="652.7">process</tspan></text></g>
<g id="n_pmbspcr" class="n"><rect x="4074" y="602" width="137" height="65"/><text><tspan x="4142.5" y="615.7">protein modification</tspan><tspan x="4142.5" y="630.7">by small protein</tspan><tspan x="4142.5" y="645.7">conjugation</tspan><tspan x="4142.5" y="660.7">or removal</tspan></text></g>
<g id="n_nucleoplasm" class="n a"><rect x="205" y="730" width="88" height="49"/><text><tspan x="249" y="758.2">nucleoplasm</tspan></text></g>
<g id="n_eplo" class="n"><rect x="647" y="730" width="148" height="49"/><text><tspan x="721" y="743.2">establishment</tspan><tspan x="721" y="758.2">of protein localization</tspan><tspan x="721" y="773.2">to organelle</tspan></text></g>
<g id="n_pt" class="n"><rect x="873" y="730" width="115" height="49"/><text><tspan x="930.5" y="758.2">protein transport</tspan></text></g>
<g id="n_ncyt" class="n"><rect x="1221" y="730" width="128" height="49"/><text><tspan x="1285" y="750.7">nucleocytoplasmic</tspan><tspan x="1285" y="765.7">transport</tspan></text></g>
<g id="n_strdd" class="n"><rect x="1373" y="730" width="131" height="49"/><text><tspan x="1438.5" y="743.2">signal transduction</tspan><tspan x="1438.5" y="758.2">in response</tspan><tspan x="1438.5" y="773.2">to DNA damage</tspan></text></g>
<g id="n_stp53" class="n"><rect x="1579" y="730" width="130" height="49"/><text><tspan x="1644" y="743.2">signal transduction</tspan><tspan x="1644" y="758.2">by p53 class</tspan><tspan x="1644" y="773.2">mediator</tspan></text></g>
<g id="n_rist" class="n"><rect x="1783" y="730" width="131" height="49"/><text><tspan x="1848.5" y="743.2">regulation of</tspan><tspan x="1848.5" y="758.2">intracellular</tspan><tspan x="1848.5" y="773.2">signal transduction</tspan></text></g>
<g id="n_iasp" class="n"><rect x="1990" y="730" width="125" height="49"/><text><tspan x="2052.5" y="750.7">intrinsic apoptotic</tspan><tspan x="2052.5" y="765.7">signaling pathway</tspan></text></g>
<g id="n_rasp" class="n"><rect x="2190" y="730" width="130" height="49"/><text><tspan x="2255" y="743.2">regulation of</tspan><tspan x="2255" y="758.2">apoptotic signaling</tspan><tspan x="2255" y="773.2">pathway</tspan></text></g>
<g id="n_nrap" class="n"><rect x="2429" y="730" width="133" height="49"/><text><tspan x="2495.5" y="743.2">negative regulation</tspan><tspan x="2495.5" y="758.2">of apoptotic</tspan><tspan x="2495.5" y="773.2">process</tspan></text></g>
<g id="n_prpcp" class="n a"><rect x="3373" y="730" width="131" height="49"/><text><tspan x="3438.5" y="743.2">positive regulation</tspan><tspan x="3438.5" y="758.2">of protein catabolic</tspan><tspan x="3438.5" y="773.2">process</tspan></text></g>
<g id="n_prpmodp" class="n"><rect x="3797" y="730" width="155" height="49"/><text><tspan x="3874.5" y="743.2">positive regulation</tspan><tspan x="3874.5" y="758.2">of protein modification</tspan><tspan x="3874.5" y="773.2">process</tspan></text></g>
<g id="n_rpmbspcr" class="n"><rect x="4027" y="715" width="137" height="79"/><text><tspan x="4095.5" y="728.2">regulation of</tspan><tspan x="4095.5" y="743.2">protein modification</tspan><tspan x="4095.5" y="758.2">by small protein</tspan><tspan x="4095.5" y="773.2">conjugation</tspan><tspan x="4095.5" y="788.2">or removal</tspan></text></g>
<g id="n_pmbspc" class="n"><rect x="4189" y="730" width="137" height="49"/><text><tspan x="4257.5" y="743.2">protein modification</tspan><tspan x="4257.5" y="758.2">by small protein</tspan><tspan x="4257.5" y="773.2">conjugation</tspan></text></g>
<g id="n_pln" class="n"><rect x="544" y="858" width="131" height="49"/><text><tspan x="609.5" y="878.7">protein localization</tspan><tspan x="609.5" y="893.7">to nucleus</tspan></text></g>
<g id="n_ipt" class="n"><rect x="825" y="858" width="115" height="49"/><text><tspan x="882.5" y="878.7">intracellular</tspan><tspan x="882.5" y="893.7">protein transport</tspan></text></g>
<g id="n_iin" class="n"><rect x="1103" y="858" width="79" height="49"/><text><tspan x="1142.5" y="878.7">import into</tspan><tspan x="1142.5" y="893.7">nucleus</tspan></text></g>
<g id="n_ddrp53" class="n"><rect x="1345" y="850" width="158" height="65"/><text><tspan x="1424" y="863.7">DNA damage response,</tspan><tspan x="1424" y="878.7">signal transduction</tspan><tspan x="1424" y="893.7">by p53 class</tspan><tspan x="1424" y="908.7">mediator</tspan></text></g>
<g id="n_rstp53" class="n"><rect x="1629" y="850" width="130" height="65"/><text><tspan x="1694" y="863.7">regulation of</tspan><tspan x="1694" y="878.7">signal transduction</tspan><tspan x="1694" y="893.7">by p53 class</tspan><tspan x="1694" y="908.7">mediator</tspan></text></g>
<g id="n_nrist" class="n"><rect x="1783" y="858" width="134" height="50"/><text><tspan x="1850" y="871.2">negative regulation</tspan><tspan x="1850" y="886.2">of intracellular</tspan><tspan x="1850" y="901.2">signal transduction</tspan></text></g>
<g id="n_iaspp53" class="n"><rect x="1941" y="850" width="125" height="65"/><text><tspan x="2003.5" y="863.7">intrinsic apoptotic</tspan><tspan x="2003.5" y="878.7">signaling pathway</tspan><tspan x="2003.5" y="893.7">by p53 class</tspan><tspan x="2003.5" y="908.7">mediator</tspan></text></g>
<g id="n_riasp" class="n"><rect x="2091" y="858" width="124" height="50"/><text><tspan x="2153" y="871.2">regulation of</tspan><tspan x="2153" y="886.2">intrinsic apoptotic</tspan><tspan x="2153" y="901.2">signaling pathway</tspan></text></g>
<g id="n_nrasp" class="n"><rect x="2290" y="858" width="134" height="50"/><text><tspan x="2357" y="871.2">negative regulation</tspan><tspan x="2357" y="886.2">of apoptotic</tspan><tspan x="2357" y="901.2">signaling pathway</tspan></text></g>
<g id="n_prpmbspcr" class="n"><rect x="3911" y="843" width="155" height="79"/><text><tspan x="3988.5" y="856.2">positive regulation</tspan><tspan x="3988.5" y="871.2">of protein modification</tspan><tspan x="3988.5" y="886.2">by small protein</tspan><tspan x="3988.5" y="901.2">conjugation</tspan><tspan x="3988.5" y="916.2">or removal</tspan></text></g>
<g id="n_pu" class="n"><rect x="4141" y="858" width="147" height="49"/><text><tspan x="4214.5" y="886.2">protein ubiquitination</tspan></text></g>
<g id="n_pin" class="n a"><rect x="773" y="987" width="99" height="47"/><text><tspan x="822.5" y="1006.7">protein import</tspan><tspan x="822.5" y="1021.7">into nucleus</tspan></text></g>
<g id="n_rddrp53" class="n"><rect x="1462" y="971" width="158" height="79"/><text><tspan x="1541" y="984.2">regulation of</tspan><tspan x="1541" y="999.2">DNA damage response,</tspan><tspan x="1541" y="1014.2">signal transduction</tspan><tspan x="1541" y="1029.2">by p53 class</tspan><tspan x="1541" y="1044.2">mediator</tspan></text></g>
<g id="n_nrstp53" class="n"><rect x="1645" y="978" width="146" height="65"/><text><tspan x="1718" y="991.7">negative regulation</tspan><tspan x="1718" y="1006.7">of signal transduction</tspan><tspan x="1718" y="1021.7">by p53 class</tspan><tspan x="1718" y="1036.7">mediator</tspan></text></g>
<g id="n_riaspp53" class="n"><rect x="1864" y="971" width="125" height="79"/><text><tspan x="1926.5" y="984.2">regulation of</tspan><tspan x="1926.5" y="999.2">intrinsic apoptotic</tspan><tspan x="1926.5" y="1014.2">signaling pathway</tspan><tspan x="1926.5" y="1029.2">by p53 class</tspan><tspan x="1926.5" y="1044.2">mediator</tspan></text></g>
<g id="n_nriasp" class="n"><rect x="2086" y="978" width="134" height="65"/><text><tspan x="2153" y="991.7">negative regulation</tspan><tspan x="2153" y="1006.7">of intrinsic</tspan><tspan x="2153" y="1021.7">apoptotic signaling</tspan><tspan x="2153" y="1036.7">pathway</tspan></text></g>
<g id="n_rpu" class="n"><rect x="4031" y="987" width="146" height="47"/><text><tspan x="4104" y="1006.7">regulation of</tspan><tspan x="4104" y="1021.7">protein ubiquitination</tspan></text></g>
<g id="n_nrddrp53" class="n a"><rect x="1474" y="1098" width="134" height="94"/><text><tspan x="1541" y="1111.2">negative regulation</tspan><tspan x="1541" y="1126.2">of DNA damage</tspan><tspan x="1541" y="1141.2">response, signal</tspan><tspan x="1541" y="1156.2">transduction</tspan><tspan x="1541" y="1171.2">by p53 class</tspan><tspan x="1541" y="1186.2">mediator</tspan></text></g>
<g id="n_nriaspp53" class="n a"><rect x="1911" y="1106" width="133" height="79"/><text><tspan x="1977.5" y="1118.7">negative regulation</tspan><tspan x="1977.5" y="1133.7">of intrinsic</tspan><tspan x="1977.5" y="1148.7">apoptotic signaling</tspan><tspan x="1977.5" y="1163.7">pathway by p53</tspan><tspan x="1977.5" y="1178.7">class mediator</tspan></text></g>
<g id="n_prpu" class="n a"><rect x="4022" y="1121" width="163" height="48"/><text><tspan x="4103.5" y="1141.2">positive regulation</tspan><tspan x="4103.5" y="1156.2">of protein ubiquitination</tspan></text></g>
</svg>
